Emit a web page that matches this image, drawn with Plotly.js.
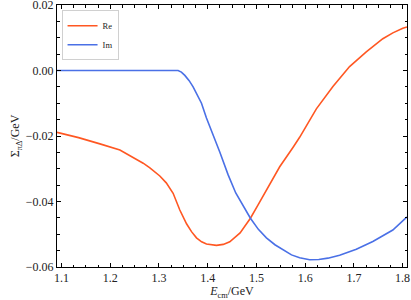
<!DOCTYPE html>
<html>
<head>
<meta charset="utf-8">
<script src="https://cdn.plot.ly/plotly-3.0.1.min.js"></script>
<style>html,body{margin:0;padding:0;background:#fff;}#chart{width:411px;height:300px;}</style>
</head>
<body>
<div id="chart"></div>
<script>
const energyRe = [1.0908, 1.1350, 1.1789, 1.2199, 1.2676, 1.2814, 1.3018, 1.3150, 1.3291, 1.3428, 1.3566, 1.3668, 1.3770, 1.3875, 1.3975, 1.4080, 1.4180, 1.4320, 1.4453, 1.4665, 1.4877, 1.5040, 1.5205, 1.5478, 1.5750, 1.5887, 1.6230, 1.6570, 1.6912, 1.7254, 1.7594, 1.7800, 1.8004, 1.8090];
const sigmaRe = [-0.0189, -0.0205, -0.0224, -0.0243, -0.0283, -0.0297, -0.0322, -0.0343, -0.0375, -0.0426, -0.0468, -0.0492, -0.0511, -0.0523, -0.0530, -0.0533, -0.0534, -0.0531, -0.0523, -0.0496, -0.0451, -0.0409, -0.0365, -0.0294, -0.0235, -0.0204, -0.0117, -0.0049, 0.0012, 0.0057, 0.0097, 0.0115, 0.0129, 0.0133];
const energyIm = [1.0908, 1.2000, 1.3000, 1.3393, 1.3460, 1.3531, 1.3620, 1.3701, 1.3873, 1.3975, 1.4248, 1.4418, 1.4576, 1.4877, 1.5040, 1.5205, 1.5380, 1.5545, 1.5720, 1.5887, 1.6092, 1.6280, 1.6467, 1.6707, 1.7050, 1.7389, 1.7799, 1.8090];
const sigmaIm = [0, 0, 0, 0, -0.0005, -0.0015, -0.0031, -0.0050, -0.0100, -0.0145, -0.0249, -0.0318, -0.0374, -0.0451, -0.0485, -0.0511, -0.0532, -0.0548, -0.0563, -0.0572, -0.0578, -0.0577, -0.0573, -0.0564, -0.0546, -0.0522, -0.0487, -0.0447];
const seriesNames = ['Re', 'Im'];
const xTickVals = [1.1, 1.2, 1.3, 1.4, 1.5, 1.6, 1.7, 1.8];
const xTickText = ['1.1', '1.2', '1.3', '1.4', '1.5', '1.6', '1.7', '1.8'];
const yTickVals = [0.02, 0.00, -0.02, -0.04, -0.06];
const yTickText = ['0.02', '0.00', '\u22120.02', '\u22120.04', '\u22120.06'];

const serif = 'Liberation Serif, DejaVu Serif, serif';
const traces = [
  {x: energyRe, y: sigmaRe, name: seriesNames[0], mode: 'lines', line: {color: '#ff5722', width: 1.6, shape: 'linear'}},
  {x: energyIm, y: sigmaIm, name: seriesNames[1], mode: 'lines', line: {color: '#4a70e6', width: 1.6, shape: 'linear'}}
];
const axisCommon = {
  showgrid: false, zeroline: false, showline: true, linecolor: '#000', linewidth: 1,
  mirror: 'ticks', ticks: 'inside', ticklen: 4, tickwidth: 1, tickcolor: '#000',
  ticklabeloverflow: 'allow',
  tickfont: {family: serif, size: 12, color: '#222'}
};
const layout = {
  width: 411, height: 300,
  margin: {l: 57, r: 3.5, t: 5, b: 33},
  paper_bgcolor: '#fff', plot_bgcolor: '#fff',
  showlegend: true,
  legend: {x: 0.013, y: 0.98, xanchor: 'left', yanchor: 'top', bgcolor: '#fff', bordercolor: '#d0d0d0', borderwidth: 1,
           font: {family: serif, size: 8.5, color: '#222'}, tracegroupgap: 0, itemwidth: 30},
  xaxis: Object.assign({}, axisCommon, {
    range: [1.0908, 1.809], tickvals: xTickVals, ticktext: xTickText,
    minor: {dtick: 0.025, tick0: 1.1, ticks: 'inside', ticklen: 2.5, tickwidth: 1, tickcolor: '#000'},
    title: {text: '<i>E</i><sub>cm</sub>/GeV', font: {family: serif, size: 12, color: '#222'}, standoff: 1}
  }),
  yaxis: Object.assign({}, axisCommon, {
    range: [-0.06, 0.02], tickvals: yTickVals, ticktext: yTickText,
    minor: {dtick: 0.005, tick0: 0, ticks: 'inside', ticklen: 2.5, tickwidth: 1, tickcolor: '#000'},
    title: {text: '\u03A3<sub>\u03C0\u0394</sub>/GeV', font: {family: serif, size: 12, color: '#222'}, standoff: 3}
  })
};
Plotly.newPlot('chart', traces, layout, {displayModeBar: false, staticPlot: true});
</script>
</body>
</html>
